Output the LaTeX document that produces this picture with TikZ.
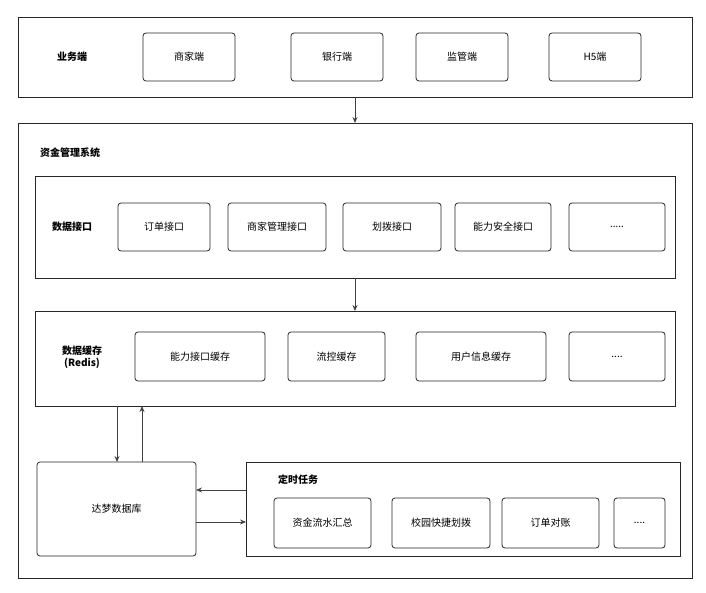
\documentclass[tikz,border=0pt]{standalone}
\usepackage{fontspec}
\setmainfont{Noto Sans CJK SC}
\usetikzlibrary{arrows.meta}
\tikzset{
  frame/.style={draw=black!85,line width=0.8pt},
  item/.style={draw=black!85,line width=0.8pt,rounded corners=3pt},
  flow/.style={draw=black!75,line width=0.8pt,-{Stealth[length=6pt,width=5pt]}},
  lbl/.style={font=\fontsize{10}{12}\selectfont},
  head/.style={font=\fontsize{10}{12}\selectfont\bfseries,align=center}
}
\newcommand{\bx}[4]{\draw[item] (#1) rectangle (#2); \node[lbl] (#4) at ($(#1)!0.5!(#2)$) {#3};}
\usetikzlibrary{calc}
\begin{document}
\begin{tikzpicture}[x=1pt,y=-1pt]
  \useasboundingbox (0,0) rectangle (706,593);
  % business side
  \draw[frame] (18,17) rectangle (692,97);
  \node[head] (biz) at (72,57) {业务端};
  \bx{143,33}{235,81}{商家端}{merchant}
  \bx{291,33}{383,81}{银行端}{bank}
  \bx{416,33}{508,81}{监管端}{supervise}
  \bx{549,33}{641,81}{H5端}{hfive}
  \coordinate (topout) at (355,97);
  \coordinate (sysin) at (355,123);
  \draw[flow] (topout) -- (sysin);
  % system
  \draw[frame] (18,123) rectangle (692,578);
  \node[head] (sys) at (70,153) {资金管理系统};
  % interfaces
  \draw[frame] (35,176) rectangle (675,278);
  \node[head] (api) at (72,227) {数据接口};
  \bx{118,203}{210,251}{订单接口}{order}
  \bx{228,203}{326,251}{商家管理接口}{mgmt}
  \bx{343,203}{441,251}{划拨接口}{transfer}
  \bx{455,203}{551,251}{能力安全接口}{safe}
  \bx{569,203}{665,251}{.....}{apimore}
  \coordinate (apiout) at (355,278);
  \coordinate (cachein) at (355,311);
  \draw[flow] (apiout) -- (cachein);
  % cache
  \draw[frame] (35,311) rectangle (675,406);
  \node[head] (cache) at (82,357) {数据缓存\\(Redis)};
  \bx{135,332}{265,381}{能力接口缓存}{abil}
  \bx{288,332}{385,381}{流控缓存}{flowctl}
  \bx{416,332}{546,381}{用户信息缓存}{user}
  \bx{569,332}{665,381}{....}{cachemore}
  % database
  \bx{37,462}{196,556}{达梦数据库}{db}
  \coordinate (ca) at (117,406); \coordinate (da) at (117,462);
  \coordinate (cb) at (142,406); \coordinate (dbb) at (142,462);
  \draw[flow] (ca) -- (da);
  \draw[flow] (dbb) -- (cb);
  % jobs
  \draw[frame] (246,462) rectangle (680,556);
  \node[head] (jobs) at (298,480) {定时任务};
  \bx{274,498}{371,548}{资金流水汇总}{sum}
  \bx{392,498}{490,548}{校园快捷划拨}{campus}
  \bx{502,498}{599,548}{订单对账}{recon}
  \bx{614,498}{665,548}{....}{jobmore}
  \coordinate (ja) at (246,490); \coordinate (dba) at (196,490);
  \coordinate (jb) at (246,522); \coordinate (dbc) at (196,522);
  \draw[flow] (ja) -- (dba);
  \draw[flow] (dbc) -- (jb);
\end{tikzpicture}
\end{document}
